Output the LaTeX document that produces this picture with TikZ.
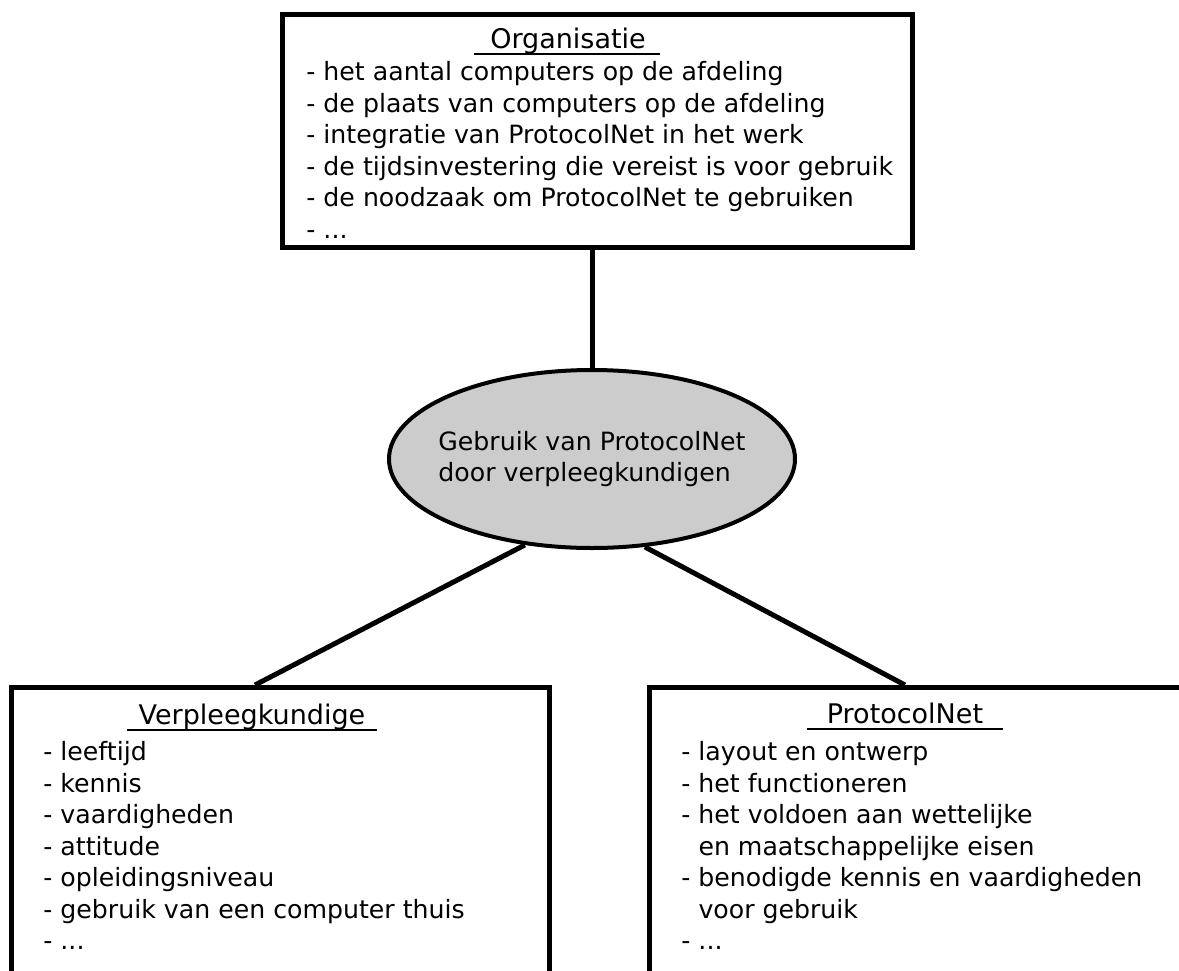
\documentclass[tikz,border=0pt]{standalone}
\usepackage{fontspec}
\setmainfont{DejaVu Sans}
\usetikzlibrary{shapes.geometric}
\definecolor{ellgray}{RGB}{204,204,204}
\newcommand\onderlijn[1]{\setbox0\hbox{#1}\rlap{\rule[-3.5pt]{\wd0}{1pt}}\box0}

\begin{document}
\begin{tikzpicture}[x=0.5pt, y=-0.5pt,
	every node/.style={font=\fontsize{12.6pt}{15.75pt}\selectfont, inner sep=0},
	kader/.style={draw, line width=2.5pt, minimum height=161.25pt},
	titel/.style={anchor=base, font=\fontsize{13.5pt}{16pt}\selectfont},
	lijst/.style={align=left, anchor=north west},
	verbinding/.style={line width=2.5pt}]
	
	\useasboundingbox (0,0) rectangle (1179,970);
	\clip (0,0) rectangle (1179,970);
	
	\node [kader, minimum width=315pt, minimum height=116.5pt] (org) at (597.5,131) {};
	\node [titel] (orgtitel) at (567,48) {\onderlijn{\hspace{8pt}Organisatie\hspace{7pt}}};
	\node [lijst] (orglijst) at (306,61) {- het aantal computers op de afdeling\\- de plaats van computers op de afdeling\\- integratie van ProtocolNet in het werk\\- de tijdsinvestering die vereist is voor gebruik\\- de noodzaak om ProtocolNet te gebruiken\\- ...};
	
	\node [draw, ellipse, fill=ellgray, line width=2pt, inner xsep=-6pt, minimum width=203pt, minimum height=89pt, align=left] (gebruik) at (592,459) {Gebruik van ProtocolNet\\door verpleegkundigen};
	
	\node [kader, minimum width=269pt] (vpk) at (280.5,848.75) {};
	\node [titel] (vpktitel) at (252,724) {\onderlijn{\hspace{6pt}Verpleegkundige\hspace{6pt}}};
	\node [lijst] (vpklijst) at (43,741) {- leeftijd\\- kennis\\- vaardigheden\\- attitude\\- opleidingsniveau\\- gebruik van een computer thuis\\- ...};
	
	\node [kader, minimum width=300.25pt] (pnet) at (949.75,848.75) {};
	\node [titel] (pnettitel) at (905,723) {\onderlijn{\hspace{10pt}ProtocolNet\hspace{10pt}}};
	\node [lijst] (pnetlijst) at (681,741) {- layout en ontwerp\\- het functioneren\\- het voldoen aan wettelijke\\\hphantom{- }en maatschappelijke eisen\\- benodigde kennis en vaardigheden\\\hphantom{- }voor gebruik\\- ...};
	
	\draw [verbinding] (gebruik.north) -- (gebruik.north |- org.south);
	\draw [verbinding] (gebruik.232) -- ([xshift=-12.75pt]vpk.north);
	\draw [verbinding] (gebruik.301) -- ([xshift=-22.4pt]pnet.north);
	
\end{tikzpicture}
\end{document}
